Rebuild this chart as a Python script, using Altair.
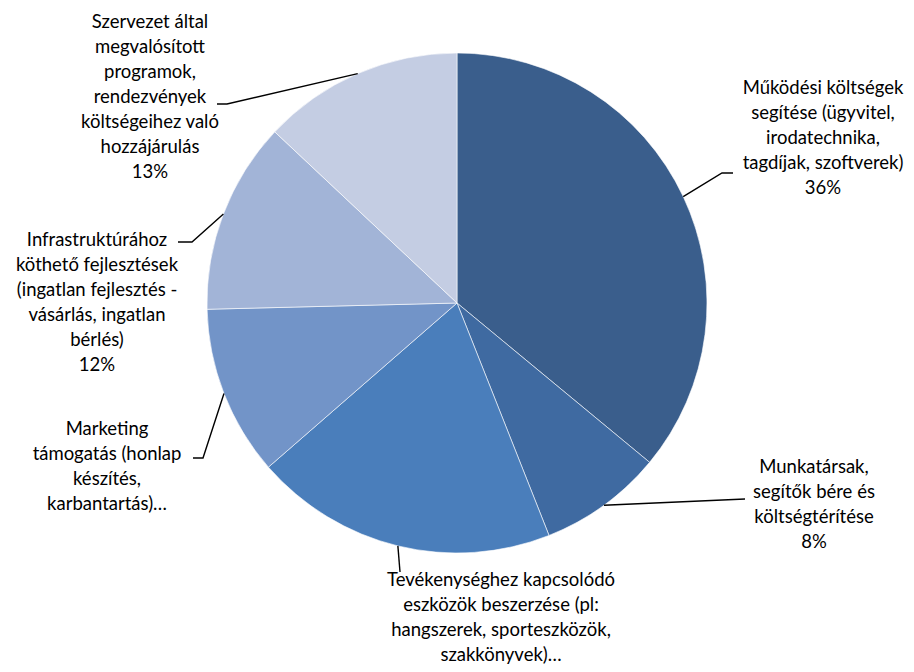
import math
import altair as alt
import pandas as pd

# ---- data ----
categories = [
    "Működési költségek\nsegítése (ügyvitel,\nirodatechnika,\ntagdíjak, szoftverek)",
    "Munkatársak,\nsegítők bére és\nköltségtérítése",
    "Tevékenységhez kapcsolódó\neszközök beszerzése (pl:\nhangszerek, sporteszközök,\nszakkönyvek)…",
    "Marketing\ntámogatás (honlap\nkészítés,\nkarbantartás)…",
    "Infrastruktúrához\nköthető fejlesztések\n(ingatlan fejlesztés -\nvásárlás, ingatlan\nbérlés)",
    "Szervezet által\nmegvalósított\nprogramok,\nrendezvények\nköltségeihez való\nhozzájárulás",
]
values = [36.0, 8.0, 19.6, 11.0, 12.4, 13.0]
show_pct = [True, True, False, False, True, True]
colors = ["#3A5E8C", "#3F6AA1", "#4A7EBB", "#7294C8", "#A2B4D7", "#C4CDE3"]

# ---- layout (image pixel positions: label first-line centres and leader elbows) ----
CX, CY, R = 457, 303, 250
label_pos = [(823, 88), (814, 467), (501, 580), (107, 429), (97, 240), (150, 22)]
elbows = [(722, 173), (745, 499), (400, 572), (203, 458), (192, 242), (227, 104)]
ends = [(733, 173), (745, 499), (400, 572), (193, 458), (178, 242), (217, 104)]


def u(px, py):
    return (px - CX) / R, (CY - py) / R


W, H = 898, 656
xs = alt.Scale(domain=[-(CX - 8) / R, (W - (CX - 8)) / R], nice=False, zero=False)
ys = alt.Scale(domain=[-(H - (CY - 8)) / R, (CY - 8) / R], nice=False, zero=False)

ids = [f"c{i}" for i in range(len(values))]
tot = sum(values)
starts, ends_ = [], []
acc = 0.0
for v in values:
    starts.append(acc / tot * 100)
    acc += v
    ends_.append(acc / tot * 100)

pie_df = pd.DataFrame({"id": ids, "start": starts, "end": ends_, "cx": 0.0, "cy": 0.0})

line_rows = []
text_rows = []
for i, cid in enumerate(ids):
    mid = (starts[i] + ends_[i]) / 2 / 100 * 2 * math.pi
    pts = [(math.sin(mid), math.cos(mid)), u(*elbows[i]), u(*ends[i])]
    for k, (x, y) in enumerate(pts):
        line_rows.append({"id": cid, "ord": k, "x": x, "y": y})
    txt = categories[i]
    if show_pct[i]:
        txt += f"\n{round(values[i] / tot * 100)}%"
    lx, ly = u(*label_pos[i])
    text_rows.append({"id": cid, "x": lx, "y": ly, "label": txt})

line_df = pd.DataFrame(line_rows)
text_df = pd.DataFrame(text_rows)

arcs = alt.Chart(pie_df).mark_arc(outerRadius=R, stroke="white", strokeWidth=0.6).encode(
    theta=alt.Theta("start:Q", stack=None, scale=alt.Scale(domain=[0, 100])),
    theta2="end:Q",
    x=alt.X("cx:Q", scale=xs, axis=None),
    y=alt.Y("cy:Q", scale=ys, axis=None),
    color=alt.Color("id:N", scale=alt.Scale(domain=ids, range=colors), legend=None),
)

lines = alt.Chart(line_df).mark_line(color="black", strokeWidth=1.4).encode(
    x=alt.X("x:Q", scale=xs, axis=None),
    y=alt.Y("y:Q", scale=ys, axis=None),
    detail="id:N",
    order="ord:Q",
)

texts = alt.Chart(text_df).mark_text(
    lineBreak="\n", lineHeight=25, font="Lato", fontSize=18.5, color="#000000",
    align="center", baseline="middle",
).encode(
    x=alt.X("x:Q", scale=xs, axis=None),
    y=alt.Y("y:Q", scale=ys, axis=None),
    text="label:N",
)

chart = alt.layer(arcs, lines, texts).properties(
    width=W, height=H, padding=0, autosize=alt.AutoSizeParams(type="none")
).configure_view(stroke=None)

chart.save("out.html", embed_options={"renderer": "svg", "actions": False})
